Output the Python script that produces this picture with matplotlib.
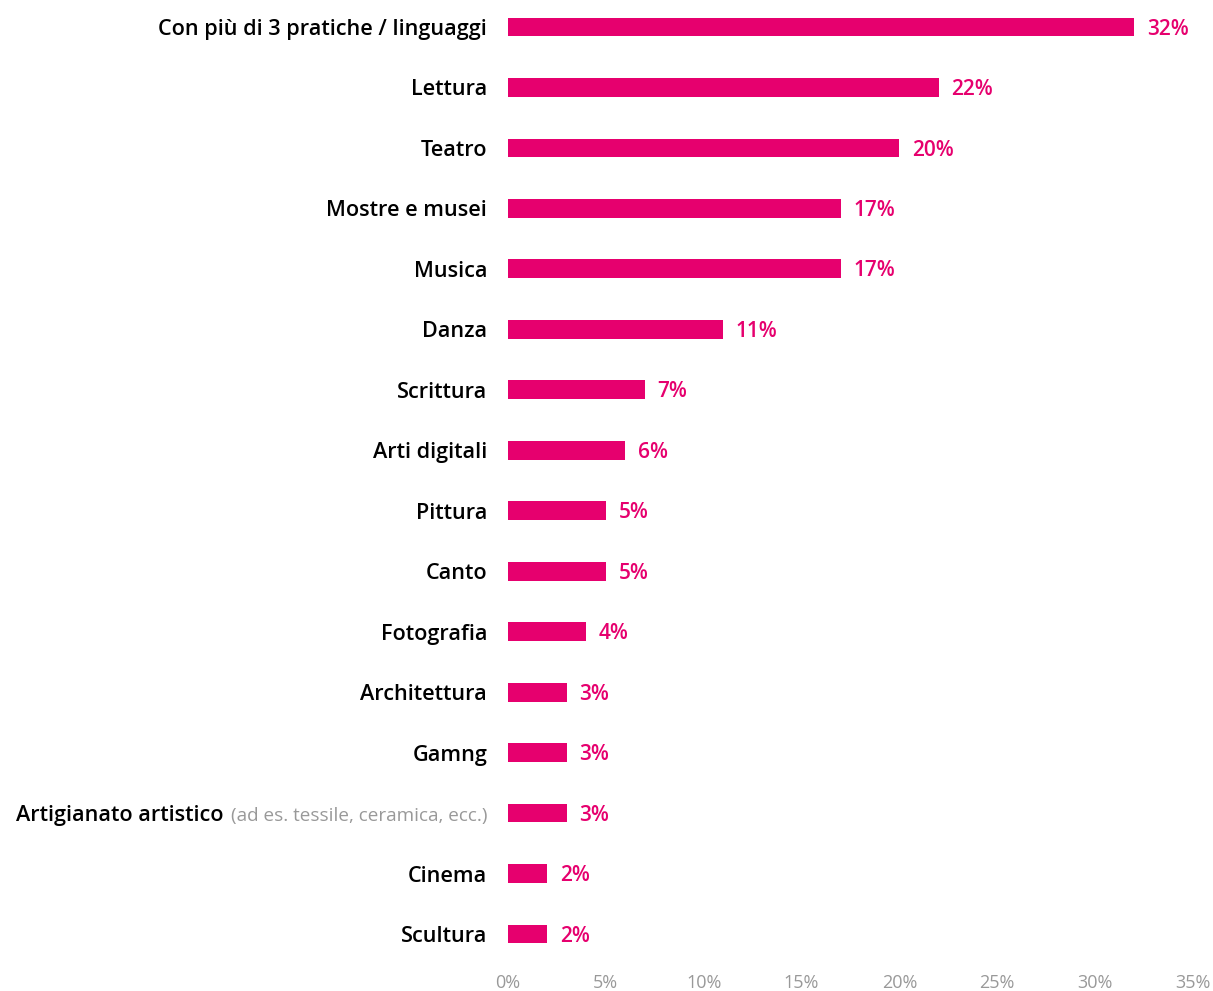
import matplotlib
matplotlib.use("Agg")
import matplotlib.pyplot as plt
from matplotlib.ticker import FuncFormatter, MultipleLocator

categories = [
    "Con più di 3 pratiche / linguaggi", "Lettura", "Teatro", "Mostre e musei",
    "Musica", "Danza", "Scrittura", "Arti digitali", "Pittura", "Canto",
    "Fotografia", "Architettura", "Gamng", "Artigianato artistico", "Cinema", "Scultura",
]
values = [32, 22, 20, 17, 17, 11, 7, 6, 5, 5, 4, 3, 3, 3, 2, 2]
note_index = 13
note_text = "(ad es. tessile, ceramica, ecc.)"

PINK = "#E6006E"
plt.rcParams['font.family'] = ['Open Sans', 'DejaVu Sans']

W, H = 1213, 991
fig = plt.figure(figsize=(W / 100, H / 100), dpi=100)
left_px, right_px = 508, 1193
top_px, bot_px = 2, 962
ax = fig.add_axes([left_px / W, 1 - bot_px / H, (right_px - left_px) / W, (bot_px - top_px) / H])

y = list(range(len(categories)))
ax.barh(y, values, height=0.31, color=PINK)

spacing = (934 - 27) / 15
ax.set_ylim((bot_px - 27) / spacing, (top_px - 27) / spacing)
ax.set_xlim(0, 35)

for yi, v in zip(y, values):
    ax.annotate(f"{v}%", xy=(v, yi), xytext=(9, -1.5), textcoords="offset points",
                va="center", ha="left", color=PINK, fontsize=15, fontweight="semibold")

labels = [c if i != note_index else "" for i, c in enumerate(categories)]
ax.set_yticks(y)
ax.set_yticklabels(labels, fontsize=15.6, color="black")
for t in ax.get_yticklabels():
    t.set_fontweight("semibold")
ax.tick_params(axis="y", length=0, pad=15)

ax.xaxis.set_major_locator(MultipleLocator(5))
ax.xaxis.set_major_formatter(FuncFormatter(lambda v, p: f"{int(v)}%"))
ax.tick_params(axis="x", length=0, pad=9, labelsize=13, labelcolor="#999999")

for s in ax.spines.values():
    s.set_visible(False)

# Artigianato label with gray note
gray = ax.annotate(note_text, xy=(0, note_index), xytext=(-15, -2), textcoords="offset points",
                   ha="right", va="center", color="#999999", fontsize=13.6)
ax.annotate(categories[note_index], xy=(0, 0.5), xycoords=gray, xytext=(-5, 0),
            textcoords="offset points", ha="right", va="center", color="black",
            fontsize=15.6, fontweight="semibold")

fig.savefig("out.png", dpi=100)
